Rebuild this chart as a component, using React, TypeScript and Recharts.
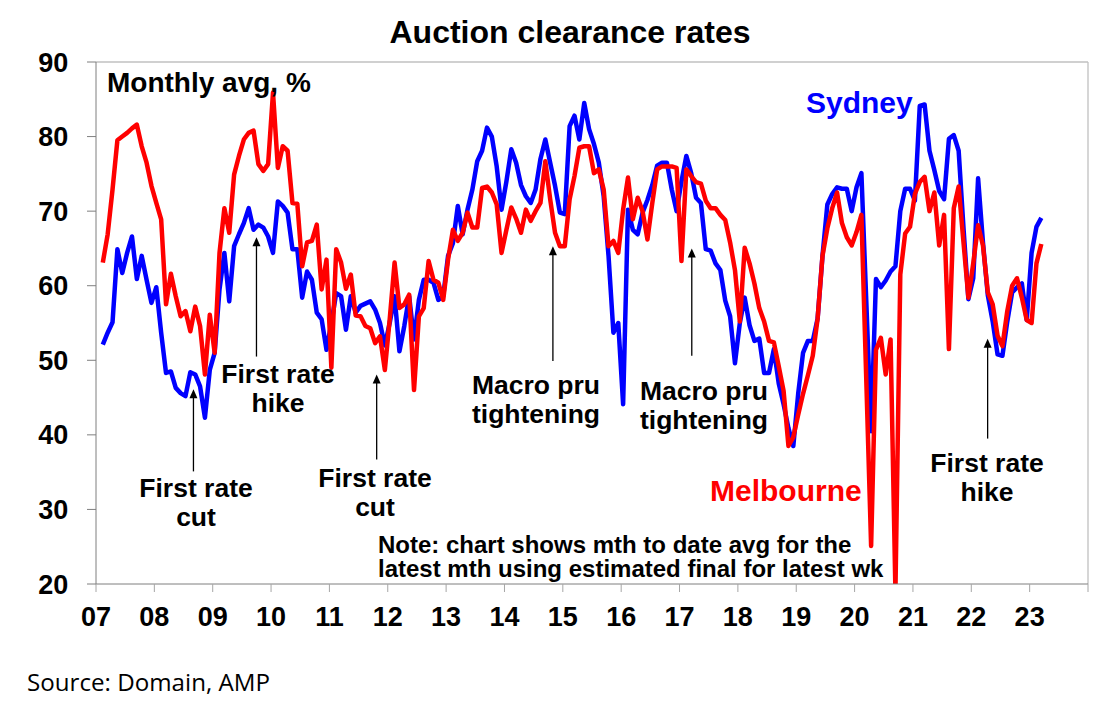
import { LineChart, Line, XAxis, YAxis, ReferenceLine } from "recharts";

const FONT = "'Liberation Sans', Arial, sans-serif";

// monthly averages, Feb 2007 .. Mar 2023
const sydney = [
  52.1, 53.7, 55.1, 64.9, 61.7, 64.4, 66.6, 60.9, 64.0, 60.8, 57.7, 59.8,
  53.7, 48.3, 48.5, 46.3, 45.6, 45.2, 48.4, 48.1, 46.5, 42.3, 48.7, 51.0,
  59.5, 64.4, 57.9, 65.3, 66.9, 68.4, 70.4, 67.5, 68.2, 67.8, 66.6, 64.4,
  71.3, 70.7, 69.8, 64.9, 64.9, 58.4, 61.9, 60.8, 56.4, 55.5, 51.4, 55.0,
  59.0, 58.6, 54.1, 58.6, 56.4, 57.3, 57.6, 57.9, 56.8, 55.0, 52.0, 55.0,
  58.6, 51.2, 54.6, 58.6, 52.8, 58.1, 60.8, 60.8, 60.4, 58.1, 58.6, 64.0,
  65.7, 70.7, 66.9, 70.2, 72.9, 76.7, 78.1, 81.2, 80.0, 76.0, 70.2, 74.0,
  78.3, 76.5, 73.5, 72.0, 71.1, 72.9, 77.0, 79.6, 76.5, 73.4, 69.8, 69.6,
  81.4, 82.8, 79.6, 84.5, 81.0, 79.0, 76.5, 72.0, 64.0, 53.7, 55.0, 44.1,
  70.2, 67.5, 66.9, 69.8, 71.5, 73.5, 76.1, 76.5, 76.5, 72.9, 70.0, 74.0,
  77.4, 75.1, 71.8, 71.1, 64.9, 64.7, 63.0, 62.1, 58.0, 55.9, 49.6, 55.0,
  58.4, 54.7, 52.6, 52.9, 48.3, 48.3, 51.5, 46.9, 44.1, 40.9, 38.5, 45.5,
  51.0, 52.6, 52.6, 55.6, 64.0, 70.9, 72.3, 73.2, 73.0, 73.0, 70.0, 73.2,
  75.1, 58.0, 40.5, 60.9, 59.8, 60.7, 61.9, 62.6, 70.0, 73.0, 73.0, 71.4,
  84.1, 84.3, 78.1, 75.5, 72.7, 71.6, 79.7, 80.2, 78.1, 67.7, 58.2, 61.0,
  74.4, 65.8, 58.7, 55.2, 50.8, 50.6, 55.2, 59.1, 59.8, 60.3, 55.4, 64.4,
  67.9, 69.1,
];

const melbourne = [
  63.1, 66.9, 72.9, 79.5, 80.0, 80.5, 81.1, 81.6, 78.7, 76.5, 73.4, 71.1,
  68.9, 57.5, 61.6, 58.6, 55.9, 56.6, 53.9, 57.2, 54.6, 48.1, 56.1, 51.0,
  64.4, 70.4, 67.1, 74.9, 77.4, 79.6, 80.5, 80.8, 76.3, 75.4, 76.3, 85.9,
  75.8, 78.7, 78.1, 71.1, 71.0, 62.6, 65.8, 66.0, 68.2, 59.5, 63.5, 49.0,
  64.9, 63.1, 59.6, 61.5, 56.0, 55.9, 54.6, 54.3, 52.3, 53.2, 48.7, 55.5,
  63.1, 57.0, 57.5, 58.8, 46.0, 55.9, 57.0, 63.3, 60.8, 60.4, 58.1, 63.5,
  67.5, 66.0, 67.1, 69.8, 67.8, 67.8, 73.1, 73.3, 72.5, 70.9, 64.4, 67.5,
  70.5, 69.0, 67.1, 70.2, 68.7, 70.0, 71.1, 76.7, 71.6, 67.1, 65.3, 65.3,
  71.6, 74.7, 78.5, 78.7, 78.7, 75.1, 75.6, 72.9, 65.3, 66.0, 64.4, 70.2,
  74.5, 68.9, 71.8, 70.0, 66.2, 71.1, 75.6, 76.0, 76.0, 76.0, 75.8, 63.3,
  75.6, 74.7, 73.9, 73.7, 71.4, 70.4, 70.4, 69.5, 68.8, 65.8, 62.1, 55.2,
  65.1, 63.0, 60.3, 57.0, 55.2, 52.6, 52.4, 49.2, 45.9, 38.5, 39.7, 42.7,
  45.5, 48.0, 50.6, 55.6, 64.0, 67.7, 70.4, 72.5, 68.4, 66.5, 65.4, 67.2,
  69.5, 47.5, 25.1, 51.4, 53.0, 48.1, 52.8, 19.0, 61.5, 67.0, 67.9, 72.3,
  73.9, 74.6, 70.0, 72.5, 65.4, 69.5, 51.5, 70.4, 73.3, 65.8, 58.4, 63.0,
  68.1, 65.4, 59.1, 57.5, 53.3, 51.9, 56.6, 60.0, 61.0, 58.4, 55.4, 55.0,
  63.0, 65.6,
];

const yearTicks = [
  2007, 2008, 2009, 2010, 2011, 2012, 2013, 2014, 2015, 2016, 2017, 2018,
  2019, 2020, 2021, 2022, 2023, 2024,
];
const valueTicks = [20, 30, 40, 50, 60, 70, 80, 90];

// arrow annotations: [x (year), tail value, tip value]
const arrows: [number, number, number][] = [
  [2008.67, 35.1, 46.1],
  [2009.75, 50.5, 66.5],
  [2011.81, 36.7, 48.1],
  [2014.83, 49.9, 65.3],
  [2017.21, 50.6, 65.0],
  [2022.28, 39.5, 52.9],
];

const data = sydney.map((v, k) => ({
  t: 2007 + (k + 1.4) / 12,
  sydney: v,
  melbourne: melbourne[k],
}));

const Arrow = (props: any) => {
  const { x1, y1, x2, y2 } = props;
  const head = 9;
  return (
    <g>
      <line x1={x1} y1={y1} x2={x2} y2={y2 + head - 1} stroke="#000" strokeWidth={1.3} />
      <polygon points={`${x2},${y2} ${x2 - 4},${y2 + head} ${x2 + 4},${y2 + head}`} fill="#000" />
    </g>
  );
};

const tickStyle = { fill: "#000", fontSize: 27, fontWeight: 700, fontFamily: FONT };
const note = { fontSize: 26.5, fontWeight: 700, fontFamily: FONT, fill: "#000" };

export default function App() {
  return (
    <div
      style={{
        position: "absolute",
        left: 0,
        top: 0,
        width: 1111,
        height: 713,
        background: "#fff",
      }}
    >
      <LineChart
        width={1111}
        height={713}
        data={data}
        margin={{ top: 62, right: 23, bottom: 79, left: 0 }}
      >
        <XAxis
          type="number"
          dataKey="t"
          domain={[2007, 2024]}
          ticks={yearTicks}
          interval={0}
          tickFormatter={(v: number) => (v === 2024 ? "" : String(v).slice(2))}
          tickSize={8}
          tickMargin={15}
          height={50}
          stroke="#7f7f7f"
          tickLine={{ stroke: "#a6a6a6" }}
          tick={tickStyle}
        />
        <YAxis
          type="number"
          domain={[20, 90]}
          ticks={valueTicks}
          interval={0}
          allowDataOverflow
          width={96}
          tickSize={9}
          tickMargin={18.7}
          stroke="#7f7f7f"
          tick={tickStyle}
        />
        <ReferenceLine y={90} stroke="#c0c0c0" strokeWidth={1.3} />
        <ReferenceLine x={2024} stroke="#c0c0c0" strokeWidth={1.3} />
        {arrows.map(([x, tail, tip], i) => (
          <ReferenceLine
            key={i}
            segment={[
              { x, y: tail },
              { x, y: tip },
            ]}
            shape={Arrow}
          />
        ))}
        <Line
          type="linear"
          dataKey="sydney"
          stroke="#0000ff"
          strokeWidth={4.5}
          strokeLinejoin="round"
          dot={false}
          activeDot={false}
          isAnimationActive={false}
        />
        <Line
          type="linear"
          dataKey="melbourne"
          stroke="#ff0000"
          strokeWidth={4.5}
          strokeLinejoin="round"
          dot={false}
          activeDot={false}
          isAnimationActive={false}
        />
      </LineChart>
      <svg
        width={1111}
        height={713}
        style={{ position: "absolute", left: 0, top: 0, pointerEvents: "none" }}
      >
        <text x={570} y={43} textAnchor="middle" fontSize={32} fontWeight={700} fontFamily={FONT}>
          Auction clearance rates
        </text>
        <text x={107} y={92} fontSize={28} fontWeight={700} fontFamily={FONT}>
          Monthly avg, %
        </text>
        <text x={806} y={113} fontSize={30} fontWeight={700} fontFamily={FONT} fill="#0000ff">
          Sydney
        </text>
        <text x={710} y={501} fontSize={30} fontWeight={700} fontFamily={FONT} fill="#ff0000">
          Melbourne
        </text>
        <text x={196} y={496.5} textAnchor="middle" {...note}>First rate</text>
        <text x={196} y={525.5} textAnchor="middle" {...note}>cut</text>
        <text x={278} y={383} textAnchor="middle" {...note}>First rate</text>
        <text x={278} y={412} textAnchor="middle" {...note}>hike</text>
        <text x={375} y={486.5} textAnchor="middle" {...note}>First rate</text>
        <text x={375} y={515.5} textAnchor="middle" {...note}>cut</text>
        <text x={536} y={394} textAnchor="middle" {...note}>Macro pru</text>
        <text x={536} y={423} textAnchor="middle" {...note}>tightening</text>
        <text x={704} y={399.5} textAnchor="middle" {...note}>Macro pru</text>
        <text x={704} y={428.5} textAnchor="middle" {...note}>tightening</text>
        <text x={987} y={472} textAnchor="middle" {...note}>First rate</text>
        <text x={987} y={501} textAnchor="middle" {...note}>hike</text>
        <text x={378} y={553} fontSize={24} fontWeight={700} fontFamily={FONT}>
          Note: chart shows mth to date avg for the
        </text>
        <text x={378} y={577} fontSize={24} fontWeight={700} fontFamily={FONT}>
          latest mth using estimated final for latest wk
        </text>
        <text
          x={27}
          y={691}
          fontSize={24}
          fontFamily="'Open Sans', sans-serif"
          textLength={243}
          lengthAdjust="spacingAndGlyphs"
        >
          Source: Domain, AMP
        </text>
      </svg>
    </div>
  );
}
